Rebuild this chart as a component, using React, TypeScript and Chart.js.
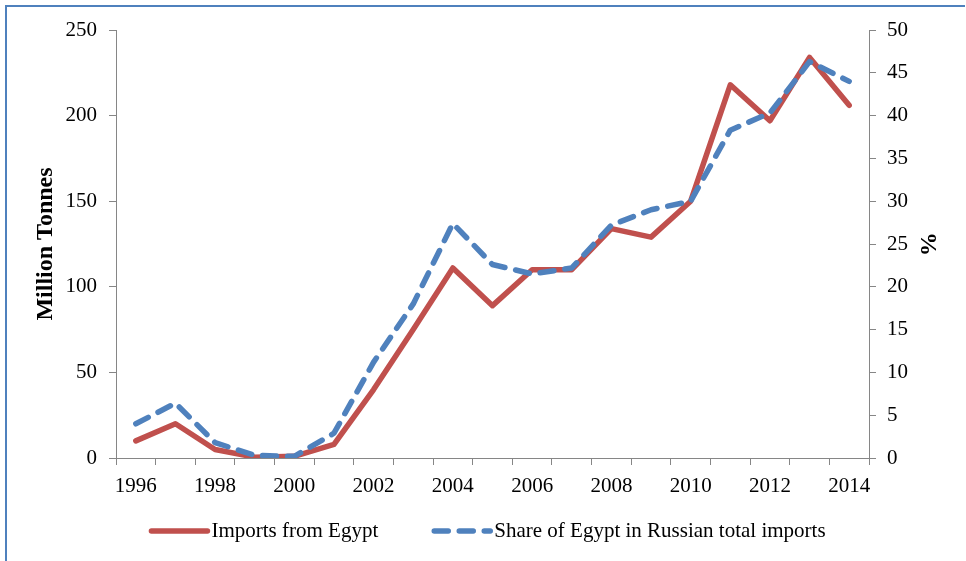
import React, { useEffect, useRef } from "react";
import { Chart, registerables } from "chart.js";

Chart.register(...registerables);

const years = ["1996","1997","1998","1999","2000","2001","2002","2003","2004","2005","2006","2007","2008","2009","2010","2011","2012","2013","2014"];
const importsFromEgypt = [10, 20, 5, 0.5, 1, 8, 40, 75, 111, 89, 110, 110, 134, 129, 150, 218, 197, 234, 206];
const shareOfEgypt = [4, 6.4, 1.8, 0.3, 0.2, 2.9, 11.2, 18, 27.4, 22.6, 21.5, 22.2, 27.2, 29, 30, 38.3, 40.3, 46.3, 44];
const leftTitle = "Million Tonnes";
const rightTitle = "%";

const RED = "#c0504d";
const BLUE = "#4f81bd";
const GRAY = "#868686";
const FAMILY = "'Liberation Serif', 'Times New Roman', serif";

const legendPlugin = {
  id: "customLegend",
  afterDraw(chart: any) {
    const ctx = chart.ctx;
    const ds = chart.data.datasets;
    ctx.save();
    ctx.font = `21px ${FAMILY}`;
    const sample = 56;
    const textGap = 60;
    const itemGap = 56;
    const widths = ds.map((d: any) => ctx.measureText(d.label).width);
    let total = 0;
    ds.forEach((d: any, i: number) => {
      total += textGap + widths[i];
      if (i < ds.length - 1) total += itemGap;
    });
    const center = (chart.chartArea.left + chart.chartArea.right) / 2 - 4;
    let x = center - total / 2;
    const yLine = 531;
    ds.forEach((d: any, i: number) => {
      ctx.beginPath();
      ctx.strokeStyle = d.borderColor;
      ctx.lineWidth = d.borderWidth;
      ctx.lineCap = "round";
      ctx.setLineDash(d.borderDash || []);
      ctx.moveTo(x, yLine);
      ctx.lineTo(x + sample, yLine);
      ctx.stroke();
      ctx.setLineDash([]);
      ctx.fillStyle = "#000";
      ctx.textBaseline = "alphabetic";
      ctx.textAlign = "left";
      ctx.fillText(d.label, x + textGap, 537);
      x += textGap + widths[i] + itemGap;
    });
    ctx.restore();
  },
};

export default function App() {
  const ref = useRef<HTMLCanvasElement>(null);
  useEffect(() => {
    const tickFont = { family: FAMILY, size: 21 };
    const titleFont = { family: FAMILY, size: 24, weight: "bold" as const };
    const chart = new Chart(ref.current as HTMLCanvasElement, {
      type: "line",
      data: {
        labels: years,
        datasets: [
          {
            label: "Imports from Egypt",
            data: importsFromEgypt,
            yAxisID: "y",
            borderColor: RED,
            backgroundColor: RED,
            borderWidth: 5.5,
            pointRadius: 0,
            borderCapStyle: "round",
            borderJoinStyle: "round",
            tension: 0,
            order: 1,
          },
          {
            label: "Share of Egypt in Russian total imports",
            data: shareOfEgypt,
            yAxisID: "y1",
            borderColor: BLUE,
            backgroundColor: BLUE,
            borderWidth: 5.5,
            borderDash: [14, 11],
            pointRadius: 0,
            borderCapStyle: "round",
            borderJoinStyle: "round",
            tension: 0,
            order: 0,
          },
        ],
      },
      options: {
        responsive: false,
        animation: false,
        layout: { padding: { left: 0, right: 0, top: 30, bottom: 43 } },
        plugins: { legend: { display: false }, tooltip: { enabled: false } },
        scales: {
          x: {
            offset: true,
            grid: { offset: true, drawOnChartArea: false, drawTicks: true, tickLength: 7, color: GRAY },
            border: { color: GRAY, width: 1 },
            ticks: {
              autoSkip: false,
              maxRotation: 0,
              minRotation: 0,
              padding: 9,
              color: "#000",
              font: tickFont,
              callback: (_v: any, i: number) => (i % 2 === 0 ? years[i] : ""),
            },
            afterFit: (s: any) => {
              s.height = 60;
            },
          },
          y: {
            position: "left",
            min: 0,
            max: 250,
            ticks: { stepSize: 50, padding: 12, color: "#000", font: tickFont },
            grid: { drawOnChartArea: false, drawTicks: true, tickLength: 7, color: GRAY },
            border: { color: GRAY, width: 1 },
            title: { display: true, text: leftTitle, color: "#000", font: titleFont, padding: { top: 31, bottom: 0 } },
            afterFit: (s: any) => {
              s.width = 116;
            },
          },
          y1: {
            position: "right",
            min: 0,
            max: 50,
            ticks: { stepSize: 5, padding: 11, color: "#000", font: tickFont },
            grid: { drawOnChartArea: false, drawTicks: true, tickLength: 7, color: GRAY },
            border: { color: GRAY, width: 1 },
            title: { display: true, text: rightTitle, color: "#000", font: titleFont, padding: { top: 24, bottom: 0 } },
            afterFit: (s: any) => {
              s.width = 97;
            },
          },
        },
      },
      plugins: [legendPlugin],
    });
    return () => chart.destroy();
  }, []);

  return (
    <div style={{ position: "absolute", left: 0, top: 0, width: 966, height: 561, background: "#fff", overflow: "hidden" }}>
      <canvas ref={ref} width={966} height={561} style={{ position: "absolute", left: 0, top: 0, width: 966, height: 561 }} />
      <div
        style={{
          position: "absolute",
          left: 5,
          top: 5,
          width: 960,
          height: 556,
          borderTop: `2px solid ${BLUE}`,
          borderLeft: `2px solid ${BLUE}`,
          boxSizing: "border-box",
          pointerEvents: "none",
        }}
      />
    </div>
  );
}
